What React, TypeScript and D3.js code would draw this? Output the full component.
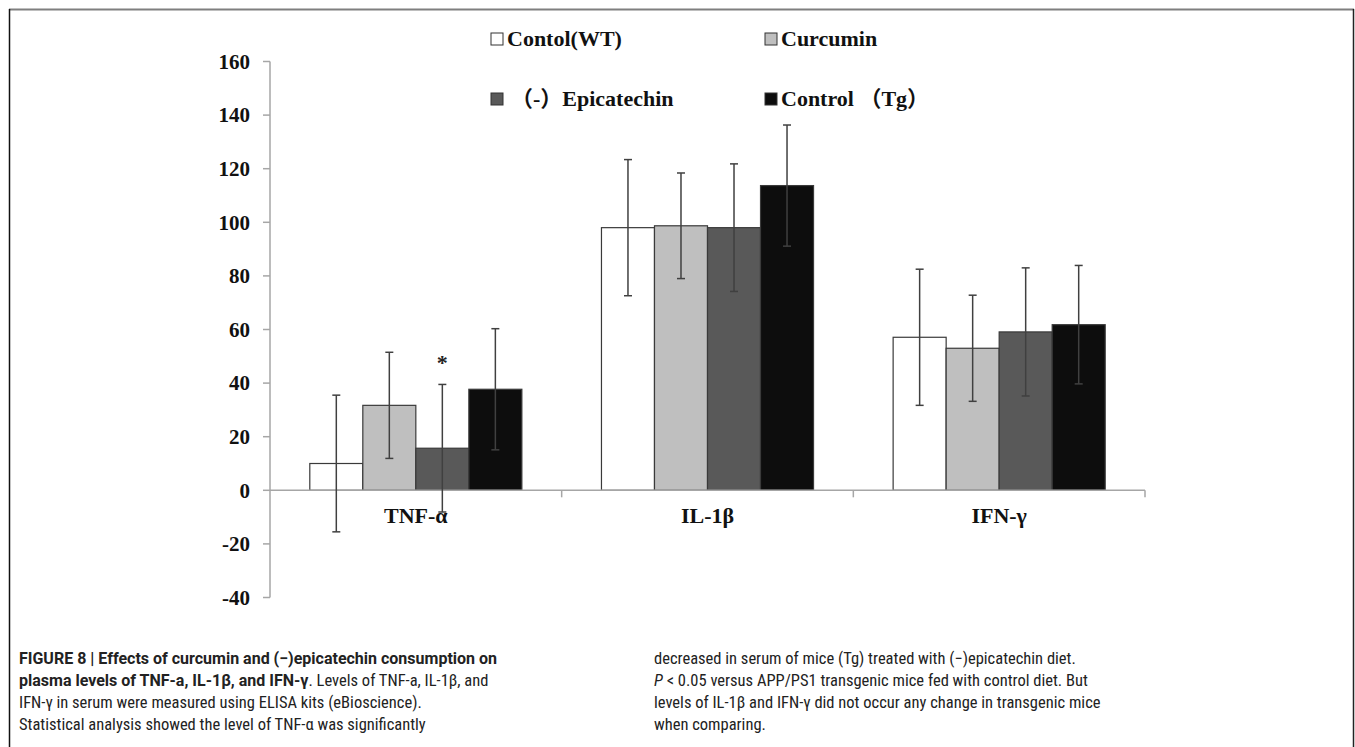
import React from "react";
import * as d3 from "d3";

const categories = ["TNF-α", "IL-1β", "IFN-γ"];
const seriesNames = ["Contol(WT)", "Curcumin", "（-）Epicatechin", "Control （Tg）"];
const seriesColors = ["#ffffff", "#bfbfbf", "#595959", "#0d0d0d"];

const wtValues = [10, 98, 57.1];
const curcuminValues = [31.7, 98.7, 53];
const epicatechinValues = [15.7, 98, 59.1];
const tgValues = [37.7, 113.7, 61.8];

const wtErr = [25.5, 25.4, 25.4];
const curcuminErr = [19.8, 19.7, 19.8];
const epicatechinErr = [23.8, 23.8, 23.9];
const tgErr = [22.6, 22.6, 22.1];

const yTicks = [-40, -20, 0, 20, 40, 60, 80, 100, 120, 140, 160];

// caption text: [text, style]  style: b = bold, n = normal, i = italic
const captionLeft = [
  [["FIGURE 8 | Effects of curcumin and (−)epicatechin consumption on", "b"]],
  [
    ["plasma levels of TNF-a, IL-1β, and IFN-γ", "b"],
    [". Levels of TNF-a, IL-1β, and", "n"],
  ],
  [["IFN-γ in serum were measured using ELISA kits (eBioscience).", "n"]],
  [["Statistical analysis showed the level of TNF-α was significantly", "n"]],
];
const captionRight = [
  [["decreased in serum of mice (Tg) treated with (−)epicatechin diet.", "n"]],
  [
    ["P", "i"],
    [" < 0.05 versus APP/PS1 transgenic mice fed with control diet. But", "n"],
  ],
  [["levels of IL-1β and IFN-γ did not occur any change in transgenic mice", "n"]],
  [["when comparing.", "n"]],
];

const W = 1355;
const H = 747;
const serif = "'Times New Roman', 'Liberation Serif', 'Noto Sans CJK SC', serif";
const capFont = "'Roboto Condensed', 'Liberation Sans Narrow', 'Arial Narrow', 'Liberation Sans', Arial, sans-serif";
const capBoldFont = "Roboto, 'Liberation Sans', Arial, sans-serif";

export default function App() {
  const values = [wtValues, curcuminValues, epicatechinValues, tgValues];
  const errs = [wtErr, curcuminErr, epicatechinErr, tgErr];

  const y = d3.scaleLinear().domain([-40, 160]).range([597.5, 61.5]);
  const x0 = d3.scaleBand<string>().domain(categories).range([270, 1145]).padding(0);
  const groupW = x0.bandwidth();
  const x1 = d3
    .scaleBand<string>()
    .domain(seriesNames)
    .range([39.8, groupW - 39.8])
    .padding(0);
  const bw = x1.bandwidth();
  const axisColor = "#a6a6a6";
  const y0 = y(0);

  const legendPos = [
    { x: 491, y: 33 },
    { x: 765, y: 33 },
    { x: 491, y: 93 },
    { x: 765, y: 93 },
  ];

  const lineYs = [664, 686, 708, 730];

  const renderCaption = (lines: any[], x: number, prefix: string) =>
    lines.map((line: any[], li: number) => (
      <text
        key={prefix + li}
        x={x}
        y={lineYs[li]}
        fontFamily={capFont}
        fontSize={16.5}
        fill="#222"
      >
        {line.map((chunk: any[], ci: number) => (
          <tspan
            key={ci}
            fontFamily={chunk[1] === "b" ? capBoldFont : capFont}
            fontSize={chunk[1] === "b" ? 16 : 16.5}
            fontWeight={chunk[1] === "b" ? "bold" : "normal"}
            fontStyle={chunk[1] === "i" ? "italic" : "normal"}
          >
            {chunk[0]}
          </tspan>
        ))}
      </text>
    ));

  return (
    <svg
      width={W}
      height={H}
      style={{ position: "fixed", left: 0, top: 0, background: "#fff" }}
    >
      <rect x={0} y={0} width={W} height={H} fill="#ffffff" />
      {/* frame */}
      <line x1={9} y1={9.5} x2={1354} y2={9.5} stroke="#7f7f7f" strokeWidth={2} />
      <line x1={9.5} y1={9} x2={9.5} y2={H} stroke="#111" strokeWidth={1.5} />
      <line x1={1353.5} y1={9} x2={1353.5} y2={H} stroke="#222" strokeWidth={1.5} />

      {/* y axis */}
      <line x1={270} y1={y(160)} x2={270} y2={y(-40)} stroke={axisColor} strokeWidth={1.5} />
      {yTicks.map((t) => (
        <g key={t}>
          <line x1={263} x2={270} y1={y(t)} y2={y(t)} stroke={axisColor} strokeWidth={1.5} />
          <text
            x={250}
            y={y(t)}
            dy="0.35em"
            textAnchor="end"
            fontFamily={serif}
            fontWeight="bold"
            fontSize={21}
            fill="#111"
          >
            {t}
          </text>
        </g>
      ))}

      {/* bars */}
      {categories.map((c, ci) => (
        <g key={c}>
          {seriesNames.map((s, si) => {
            const v = values[si][ci];
            const bx = (x0(c) as number) + (x1(s) as number);
            return (
              <rect
                key={s}
                x={bx}
                y={y(Math.max(v, 0))}
                width={bw}
                height={Math.abs(y(v) - y0)}
                fill={seriesColors[si]}
                stroke="#3a3a3a"
                strokeWidth={1.2}
              />
            );
          })}
        </g>
      ))}

      {/* x axis */}
      <line x1={270} x2={1145} y1={y0} y2={y0} stroke={axisColor} strokeWidth={1.5} />
      {categories.map((c) => (
        <line
          key={c}
          x1={(x0(c) as number) + groupW}
          x2={(x0(c) as number) + groupW}
          y1={y0}
          y2={y0 + 7}
          stroke={axisColor}
          strokeWidth={1.5}
        />
      ))}

      {/* error bars */}
      {categories.map((c, ci) => (
        <g key={c + "e"}>
          {seriesNames.map((s, si) => {
            const v = values[si][ci];
            const e = errs[si][ci];
            const cx = (x0(c) as number) + (x1(s) as number) + bw / 2;
            return (
              <g key={s} stroke="#404040" strokeWidth={1.5}>
                <line x1={cx} x2={cx} y1={y(v + e)} y2={y(v - e)} />
                <line x1={cx - 4} x2={cx + 4} y1={y(v + e)} y2={y(v + e)} />
                <line x1={cx - 4} x2={cx + 4} y1={y(v - e)} y2={y(v - e)} />
              </g>
            );
          })}
        </g>
      ))}

      {/* significance marker */}
      <text
        x={(x0(categories[0]) as number) + (x1(seriesNames[2]) as number) + bw / 2}
        y={y(epicatechinValues[0] + epicatechinErr[0]) - 14}
        textAnchor="middle"
        fontFamily={serif}
        fontWeight="bold"
        fontSize={22}
        fill="#222"
      >
        *
      </text>

      {/* category labels */}
      {categories.map((c) => (
        <text
          key={c + "l"}
          x={(x0(c) as number) + groupW / 2}
          y={523}
          textAnchor="middle"
          fontFamily={serif}
          fontWeight="bold"
          fontSize={22}
          fill="#111"
        >
          {c}
        </text>
      ))}

      {/* legend */}
      {seriesNames.map((s, si) => (
        <g key={s + "lg"}>
          <rect
            x={legendPos[si].x}
            y={legendPos[si].y}
            width={12}
            height={12}
            fill={seriesColors[si]}
            stroke="#333"
            strokeWidth={1}
          />
          <text
            x={legendPos[si].x + (si === 2 ? 20 : 16)}
            y={legendPos[si].y + 13}
            fontFamily={serif}
            fontWeight="bold"
            fontSize={22}
            fill="#111"
          >
            {s}
          </text>
        </g>
      ))}

      {/* caption */}
      {renderCaption(captionLeft, 19, "cl")}
      {renderCaption(captionRight, 654, "cr")}
    </svg>
  );
}
